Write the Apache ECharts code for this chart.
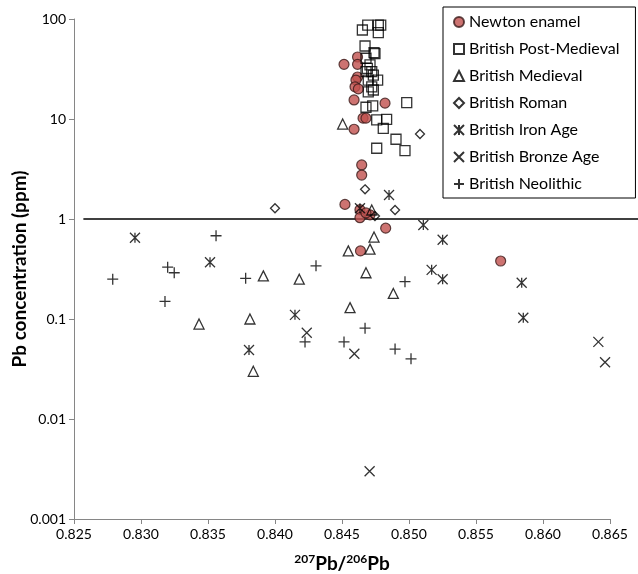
<!DOCTYPE html>
<html>
<head>
<meta charset="utf-8">
<script src="https://cdn.jsdelivr.net/npm/echarts@6/dist/echarts.min.js"></script>
<style>html,body{margin:0;padding:0;background:#fff}#c{width:638px;height:574px}</style>
</head>
<body>
<div id="c"></div>
<script>
const xTicks = ['0.825','0.830','0.835','0.840','0.845','0.850','0.855','0.860','0.865'];
const yTicks = ['0.001','0.01','0.1','1','10','100'];
const seriesNames = ['Newton enamel','British Post-Medieval','British Medieval','British Roman','British Iron Age','British Bronze Age','British Neolithic'];

const newtonEnamel = [[0.84616,41.7],[0.84515,35.2],[0.84616,35.2],[0.84616,26.3],[0.84604,24.5],[0.84597,21.0],[0.84622,20.0],[0.84590,15.5],[0.84821,14.4],[0.84657,10.2],[0.84679,10.2],[0.84590,7.9],[0.84647,3.47],[0.84647,2.75],[0.84522,1.40],[0.84634,1.24],[0.84634,1.03],[0.84709,1.10],[0.84679,1.15],[0.84826,0.81],[0.84638,0.48],[0.85684,0.38]];
const postMedieval = [[0.84652,77.6],[0.84692,87],[0.84771,87],[0.84789,87],[0.84771,73],[0.84672,53.7],[0.84739,46],[0.84746,45],[0.84679,40.5],[0.84709,34.7],[0.84689,32.1],[0.84722,29.7],[0.84734,27.5],[0.84679,29.7],[0.84766,24.5],[0.84696,24.5],[0.84722,21],[0.84696,18.7],[0.84734,19.5],[0.84983,14.6],[0.84679,13.1],[0.84729,13.5],[0.84833,9.93],[0.84759,9.8],[0.84808,8.07],[0.84903,6.27],[0.84759,5.1],[0.84970,4.82]];
const medieval = [[0.84505,8.9],[0.84739,0.66],[0.84547,0.48],[0.84709,0.50],[0.84722,1.23],[0.83913,0.27],[0.84181,0.25],[0.84679,0.29],[0.84883,0.18],[0.84560,0.13],[0.83433,0.089],[0.83813,0.10],[0.83838,0.030]];
const roman = [[0.85082,7.08],[0.84672,1.98],[0.84896,1.23],[0.84000,1.28],[0.84746,1.07]];
const ironAge = [[0.82955,0.65],[0.83515,0.37],[0.83806,0.049],[0.84149,0.11],[0.85107,0.87],[0.85251,0.62],[0.85169,0.31],[0.85251,0.25],[0.85841,0.23],[0.85853,0.103],[0.84851,1.74],[0.84634,1.28]];
const bronzeAge = [[0.84237,0.073],[0.84592,0.045],[0.84706,0.0030],[0.86413,0.059],[0.86463,0.037]];
const neolithic = [[0.82789,0.25],[0.83560,0.68],[0.83199,0.33],[0.83248,0.29],[0.83179,0.15],[0.83781,0.255],[0.84306,0.34],[0.84224,0.059],[0.84515,0.059],[0.84672,0.081],[0.84970,0.236],[0.84896,0.050],[0.85015,0.040]];
const refLine = [[0.8257,1],[0.8671,1]];

const FONT = 'Lato';
const symAsterisk = 'path://M0,0L10,10M10,0L0,10M5,0L5,10';
const symX = 'path://M0,0L10,10M10,0L0,10';
const symPlus = 'path://M0,5L10,5M5,0L5,10';

const chart = echarts.init(document.getElementById('c'));
function sc(name, data, symbol, size, style) {
  return { name, type: 'scatter', data, symbol, symbolSize: size, itemStyle: style };
}
const hollow = { color: 'rgba(0,0,0,0)', borderColor: '#000', borderWidth: 1.3 };
chart.setOption({
  animation: false,
  textStyle: { fontFamily: FONT },
  grid: { left: 74, right: 28, top: 19, bottom: 55, containLabel: false, outerBoundsMode: 'none' },
  xAxis: {
    type: 'value', min: 0.825, max: 0.865, interval: 0.005,
    name: '{s|207}{b|Pb/}{s|206}{b|Pb}', nameLocation: 'middle', nameGap: 34,
    nameMoveOverlap: false,
    nameTextStyle: { rich: {
      s: { fontSize: 12, fontWeight: 'bold', fontFamily: FONT, color: '#000', verticalAlign: 'top', padding: [0,0,9,0] },
      b: { fontSize: 19, fontWeight: 'bold', fontFamily: FONT, color: '#000' }
    } },
    axisLine: { onZero: false, lineStyle: { color: '#868686', width: 1 } },
    axisTick: { show: true, length: 5, lineStyle: { color: '#868686' } },
    splitLine: { show: false },
    axisLabel: { fontSize: 14, color: '#000', fontFamily: FONT, margin: 8,
      formatter: v => { const i = Math.round((v - 0.825) / 0.005); return xTicks[i] !== undefined ? xTicks[i] : ''; } }
  },
  yAxis: {
    type: 'log', logBase: 10, min: 0.001, max: 100,
    name: 'Pb concentration (ppm)', nameLocation: 'middle', nameGap: 45,
    nameMoveOverlap: false,
    nameTextStyle: { fontSize: 19, fontWeight: 'bold', color: '#000', fontFamily: FONT },
    axisLine: { show: true, lineStyle: { color: '#868686', width: 1 } },
    axisTick: { show: true, length: 5, lineStyle: { color: '#868686' } },
    splitLine: { show: false },
    minorTick: { show: false },
    axisLabel: { fontSize: 14, color: '#000', fontFamily: FONT, margin: 8,
      formatter: v => { const i = Math.round(Math.log10(v) + 3); return yTicks[i] !== undefined ? yTicks[i] : ''; } }
  },
  legend: {
    orient: 'vertical', left: 443, top: 7,
    data: seriesNames,
    backgroundColor: '#fff', borderColor: '#000', borderWidth: 1,
    padding: [7, 16, 6, 10], itemGap: 11, itemWidth: 10, itemHeight: 10,
    textStyle: { fontSize: 16, lineHeight: 16, color: '#000', fontFamily: FONT }
  },
  series: [
    sc(seriesNames[0], newtonEnamel, 'circle', 10, { color: '#C0504D', borderColor: '#3a1a19', borderWidth: 1.2 }),
    sc(seriesNames[1], postMedieval, 'rect', 10, hollow),
    sc(seriesNames[2], medieval, 'triangle', 10, hollow),
    sc(seriesNames[3], roman, 'diamond', 9, hollow),
    sc(seriesNames[4], ironAge, symAsterisk, 10, hollow),
    sc(seriesNames[5], bronzeAge, symX, 10, hollow),
    sc(seriesNames[6], neolithic, symPlus, 11, hollow)
  ]
});
// reference line at 1 ppm, extending past the axis end as in the original
const p0 = chart.convertToPixel({ gridIndex: 0 }, refLine[0]);
const p1 = chart.convertToPixel({ gridIndex: 0 }, refLine[1]);
chart.setOption({
  graphic: [{ type: 'line', silent: true, z: 1,
    shape: { x1: p0[0], y1: p0[1], x2: p1[0], y2: p1[1] },
    style: { stroke: '#000', lineWidth: 1.5 } }]
});
</script>
</body>
</html>
